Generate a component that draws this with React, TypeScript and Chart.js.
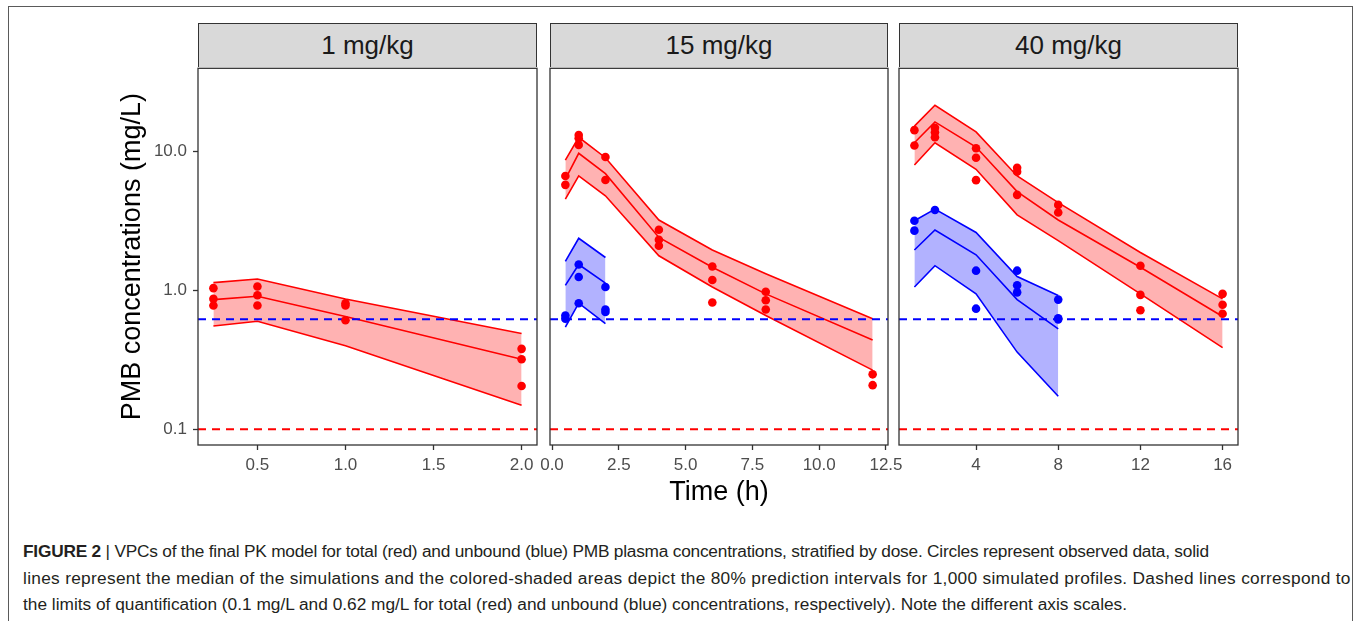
import React, { useEffect, useRef } from "react";
import { Chart, registerables } from "chart.js";

Chart.register(...registerables);

// ---------------- DATA ----------------
const doseLabels = ["1 mg/kg", "15 mg/kg", "40 mg/kg"];

const LLOQ_TOTAL = 0.1;
const LLOQ_UNBOUND = 0.62;

// shared y axis
const yRange = [0.0771, 39.9];
const yTicks = [0.1, 1, 10];
const yTickLabels = ["0.1", "1.0", "10.0"];

// 1 mg/kg
const xRange1 = [0.1625, 2.0875];
const xTicks1 = [0.5, 1, 1.5, 2];
const xTickLabels1 = ["0.5", "1.0", "1.5", "2.0"];
const simTimeTotal1 = [0.25, 0.5, 1, 2];
const totalLo1 = [0.555, 0.6, 0.4, 0.149];
const totalMed1 = [0.86, 0.91, 0.65, 0.32];
const totalHi1 = [1.14, 1.21, 0.87, 0.49];
const obsTimeTotal1 = [0.25, 0.25, 0.25, 0.5, 0.5, 0.5, 1, 1, 1, 2, 2, 2];
const obsTotal1 = [1.04, 0.87, 0.78, 1.07, 0.925, 0.78, 0.81, 0.78, 0.61, 0.38, 0.32, 0.205];

// 15 mg/kg
const xRange2 = [-0.075, 12.575];
const xTicks2 = [0, 2.5, 5, 7.5, 10, 12.5];
const xTickLabels2 = ["0.0", "2.5", "5.0", "7.5", "10.0", "12.5"];
const simTimeTotal2 = [0.5, 1, 2, 4, 6, 8, 12];
const totalLo2 = [4.55, 6.69, 4.81, 1.78, 1.06, 0.66, 0.267];
const totalMed2 = [6.34, 9.74, 6.95, 2.41, 1.47, 0.946, 0.44];
const totalHi2 = [8.7, 12.7, 9.05, 3.22, 1.96, 1.32, 0.626];
const obsTimeTotal2 = [0.5, 0.5, 1, 1, 1, 2, 2, 4, 4, 4, 6, 6, 6, 8, 8, 8, 12, 12];
const obsTotal2 = [6.69, 5.77, 13.2, 12.5, 11.2, 9.16, 6.26, 2.74, 2.32, 2.1, 1.49, 1.19, 0.82, 0.98, 0.85, 0.73, 0.249, 0.208];
const simTimeUnbound2 = [0.5, 1, 2];
const unboundLo2 = [0.545, 0.81, 0.577];
const unboundMed2 = [1.09, 1.54, 1.13];
const unboundHi2 = [1.62, 2.38, 1.73];
const obsTimeUnbound2 = [0.5, 0.5, 1, 1, 1, 2, 2, 2];
const obsUnbound2 = [0.66, 0.626, 1.54, 1.25, 0.81, 1.06, 0.73, 0.7];

// 40 mg/kg
const xRange3 = [0.25, 16.75];
const xTicks3 = [4, 8, 12, 16];
const xTickLabels3 = ["4", "8", "12", "16"];
const simTimeTotal3 = [1, 2, 4, 6, 8, 12, 16];
const totalLo3 = [8.03, 11.6, 7.47, 3.51, 2.29, 0.946, 0.388];
const totalMed3 = [11.6, 16.4, 10.8, 5.16, 3.22, 1.47, 0.65];
const totalHi3 = [15.3, 21.6, 13.9, 6.69, 4.3, 1.88, 0.87];
const obsTimeTotal3 = [1, 1, 2, 2, 2, 4, 4, 4, 6, 6, 6, 8, 8, 12, 12, 12, 16, 16, 16];
const obsTotal3 = [14.3, 11.1, 14.9, 13.8, 12.7, 10.6, 9.05, 6.24, 7.67, 7.18, 4.89, 4.14, 3.65, 1.51, 0.93, 0.72, 0.946, 0.79, 0.68];
const simTimeUnbound3 = [1, 2, 4, 6, 8];
const unboundLo3 = [1.06, 1.51, 0.946, 0.36, 0.173];
const unboundMed3 = [1.96, 2.73, 1.81, 0.86, 0.53];
const unboundHi3 = [3.18, 3.86, 2.62, 1.26, 0.92];
const obsTimeUnbound3 = [1, 1, 2, 4, 4, 6, 6, 6, 8, 8, 8];
const obsUnbound3 = [3.18, 2.7, 3.8, 1.39, 0.74, 1.39, 1.09, 0.97, 0.86, 0.63, 0.62];

const captionLines = [
  "VPCs of the final PK model for total (red) and unbound (blue) PMB plasma concentrations, stratified by dose. Circles represent observed data, solid",
  "lines represent the median of the simulations and the colored-shaded areas depict the 80% prediction intervals for 1,000 simulated profiles. Dashed lines correspond to",
  "the limits of quantification (0.1 mg/L and 0.62 mg/L for total (red) and unbound (blue) concentrations, respectively). Note the different axis scales.",
];
const captionSpacing = [-0.22, 0.3, 0];

// ---------------- STYLE ----------------
const FONT = "'Liberation Sans', Arial, Helvetica, sans-serif";
const RED = "#FF0000";
const BLUE = "#0000FF";
const RED_FILL = "rgba(255,0,0,0.3)";
const BLUE_FILL = "rgba(0,0,255,0.3)";

const PLOT_TOP = 67;
const PLOT_BOTTOM = 445;
const PAD_TOP = 3;
const SIDE = 20;
const X_AXIS_H = 64;
const Y_AXIS_W = 98;

type Group = {
  t: number[];
  lo: number[];
  med: number[];
  hi: number[];
  obsT: number[];
  obs: number[];
  color: string;
  fill: string;
};

type PanelDef = {
  label: string;
  plotLeft: number;
  plotRight: number;
  xRange: number[];
  xTicks: number[];
  xTickLabels: string[];
  groups: Group[];
  showY: boolean;
  xTitle?: string;
};

const zip = (xs: number[], ys: number[]) => xs.map((x, i) => ({ x, y: ys[i] }));

const panels: PanelDef[] = [
  {
    label: doseLabels[0],
    plotLeft: 198,
    plotRight: 537,
    xRange: xRange1,
    xTicks: xTicks1,
    xTickLabels: xTickLabels1,
    showY: true,
    groups: [
      { t: simTimeTotal1, lo: totalLo1, med: totalMed1, hi: totalHi1, obsT: obsTimeTotal1, obs: obsTotal1, color: RED, fill: RED_FILL },
    ],
  },
  {
    label: doseLabels[1],
    plotLeft: 550,
    plotRight: 888,
    xRange: xRange2,
    xTicks: xTicks2,
    xTickLabels: xTickLabels2,
    showY: false,
    xTitle: "Time (h)",
    groups: [
      { t: simTimeTotal2, lo: totalLo2, med: totalMed2, hi: totalHi2, obsT: obsTimeTotal2, obs: obsTotal2, color: RED, fill: RED_FILL },
      { t: simTimeUnbound2, lo: unboundLo2, med: unboundMed2, hi: unboundHi2, obsT: obsTimeUnbound2, obs: obsUnbound2, color: BLUE, fill: BLUE_FILL },
    ],
  },
  {
    label: doseLabels[2],
    plotLeft: 899,
    plotRight: 1238,
    xRange: xRange3,
    xTicks: xTicks3,
    xTickLabels: xTickLabels3,
    showY: false,
    groups: [
      { t: simTimeTotal3, lo: totalLo3, med: totalMed3, hi: totalHi3, obsT: obsTimeTotal3, obs: obsTotal3, color: RED, fill: RED_FILL },
      { t: simTimeUnbound3, lo: unboundLo3, med: unboundMed3, hi: unboundHi3, obsT: obsTimeUnbound3, obs: obsUnbound3, color: BLUE, fill: BLUE_FILL },
    ],
  },
];

const framePlugin = {
  id: "panelFrame",
  afterDatasetsDraw(chart: any) {
    const { ctx, chartArea } = chart;
    const { left, top, right, bottom } = chartArea;
    ctx.save();
    ctx.strokeStyle = "#333333";
    ctx.lineWidth = 1.3;
    ctx.strokeRect(left, top, right - left, bottom - top);
    ctx.restore();
  },
};

function buildDatasets(p: PanelDef) {
  const ds: any[] = [];
  // observed points (top)
  p.groups.forEach((g) => {
    ds.push({
      type: "scatter",
      data: zip(g.obsT, g.obs),
      showLine: false,
      pointRadius: 4.3,
      pointBorderWidth: 0,
      pointBackgroundColor: g.color,
      backgroundColor: g.color,
      borderColor: g.color,
      order: 0,
    });
  });
  // LLOQ dashed lines
  const hline = (v: number, c: string) => ({
    type: "line",
    data: [
      { x: p.xRange[0], y: v },
      { x: p.xRange[1], y: v },
    ],
    borderColor: c,
    borderWidth: 2,
    borderDash: [8, 6],
    pointRadius: 0,
    fill: false,
    order: 1,
  });
  ds.push(hline(LLOQ_UNBOUND, BLUE));
  ds.push(hline(LLOQ_TOTAL, RED));
  // median + ribbons
  p.groups.forEach((g) => {
    ds.push({
      type: "line",
      data: zip(g.t, g.lo),
      borderColor: g.color,
      borderWidth: 1.6,
      pointRadius: 0,
      fill: false,
      tension: 0,
      order: 3,
    });
    ds.push({
      type: "line",
      data: zip(g.t, g.med),
      borderColor: g.color,
      borderWidth: 1.6,
      pointRadius: 0,
      fill: false,
      tension: 0,
      order: 2,
    });
    ds.push({
      type: "line",
      data: zip(g.t, g.hi),
      borderColor: g.color,
      borderWidth: 1.6,
      pointRadius: 0,
      backgroundColor: g.fill,
      fill: { target: "-2", above: g.fill, below: g.fill },
      tension: 0,
      order: 3,
    });
  });
  return ds;
}

function Panel({ p }: { p: PanelDef }) {
  const ref = useRef<HTMLCanvasElement | null>(null);
  const leftMargin = p.showY ? Y_AXIS_W : SIDE;
  const canvasLeft = p.plotLeft - leftMargin;
  const width = p.plotRight + SIDE - canvasLeft;
  const height = PAD_TOP + (PLOT_BOTTOM - PLOT_TOP) + X_AXIS_H;

  useEffect(() => {
    if (!ref.current) return;
    const chart = new Chart(ref.current, {
      type: "line",
      data: { datasets: buildDatasets(p) },
      options: {
        animation: false,
        responsive: false,
        devicePixelRatio: 1,
        layout: {
          padding: { left: p.showY ? 0 : SIDE, right: SIDE, top: PAD_TOP, bottom: 0 },
        },
        plugins: {
          legend: { display: false },
          tooltip: { enabled: false },
        },
        scales: {
          x: {
            type: "linear",
            min: p.xRange[0],
            max: p.xRange[1],
            afterBuildTicks: (axis: any) => {
              axis.ticks = p.xTicks.map((v) => ({ value: v }));
            },
            afterFit: (axis: any) => {
              axis.height = X_AXIS_H;
              axis.paddingLeft = 0;
              axis.paddingRight = 0;
            },
            ticks: {
              autoSkip: false,
              maxRotation: 0,
              color: "#4D4D4D",
              font: { family: FONT, size: 17 },
              padding: 5,
              callback: (_v: any, i: number) => p.xTickLabels[i],
            },
            grid: {
              display: true,
              drawOnChartArea: false,
              drawTicks: true,
              tickLength: 5,
              tickColor: "#333333",
              tickWidth: 1.3,
            },
            border: { display: false },
            title: p.xTitle
              ? {
                  display: true,
                  text: p.xTitle,
                  color: "#000000",
                  font: { family: FONT, size: 27 },
                  padding: { top: 0, bottom: 0 },
                }
              : { display: false },
          },
          y: {
            type: "logarithmic",
            display: p.showY,
            min: yRange[0],
            max: yRange[1],
            afterBuildTicks: (axis: any) => {
              axis.ticks = yTicks.map((v) => ({ value: v }));
            },
            afterFit: (axis: any) => {
              if (p.showY) axis.width = Y_AXIS_W;
              axis.paddingTop = 0;
              axis.paddingBottom = 0;
            },
            ticks: {
              autoSkip: false,
              color: "#4D4D4D",
              font: { family: FONT, size: 17 },
              padding: 6,
              callback: (_v: any, i: number) => yTickLabels[i],
            },
            grid: {
              display: true,
              drawOnChartArea: false,
              drawTicks: true,
              tickLength: 5,
              tickColor: "#333333",
              tickWidth: 1.3,
            },
            border: { display: false },
            title: {
              display: p.showY,
              text: "PMB concentrations (mg/L)",
              color: "#000000",
              font: { family: FONT, size: 27 },
              padding: { top: 16, bottom: 0 },
            },
          },
        },
      } as any,
      plugins: [framePlugin],
    });
    return () => chart.destroy();
  }, []);

  return (
    <>
      <div
        style={{
          position: "absolute",
          left: p.plotLeft,
          top: 23,
          width: p.plotRight - p.plotLeft,
          height: PLOT_TOP - 23,
          boxSizing: "border-box",
          background: "#D9D9D9",
          border: "1.3px solid #333333",
          borderBottom: "none",
          display: "flex",
          alignItems: "center",
          justifyContent: "center",
          fontFamily: FONT,
          fontSize: 26,
          color: "#1A1A1A",
        }}
      >
        {p.label}
      </div>
      <canvas
        ref={ref}
        width={width}
        height={height}
        style={{ position: "absolute", left: canvasLeft, top: PLOT_TOP - PAD_TOP, width, height }}
      />
    </>
  );
}

export default function App() {
  return (
    <div
      style={{
        position: "fixed",
        left: 0,
        top: 0,
        width: 1356,
        height: 621,
        overflow: "hidden",
        background: "#FFFFFF",
      }}
    >
      <div
        style={{
          position: "absolute",
          left: 8,
          top: 6,
          width: 1345,
          height: 700,
          border: "1px solid #5A5A5A",
          boxSizing: "border-box",
        }}
      />
      {panels.map((p, i) => (
        <Panel key={i} p={p} />
      ))}
      {captionLines.map((line, i) => (
        <div
          key={i}
          style={{
            position: "absolute",
            left: 23,
            top: 538 + i * 26.5,
            height: 26,
            lineHeight: "26px",
            whiteSpace: "nowrap",
            fontFamily: FONT,
            fontSize: 17.3,
            letterSpacing: captionSpacing[i],
            color: "#231F20",
          }}
        >
          {i === 0 ? (
            <>
              <b>FIGURE 2</b>
              {" | "}
            </>
          ) : null}
          {line}
        </div>
      ))}
    </div>
  );
}
